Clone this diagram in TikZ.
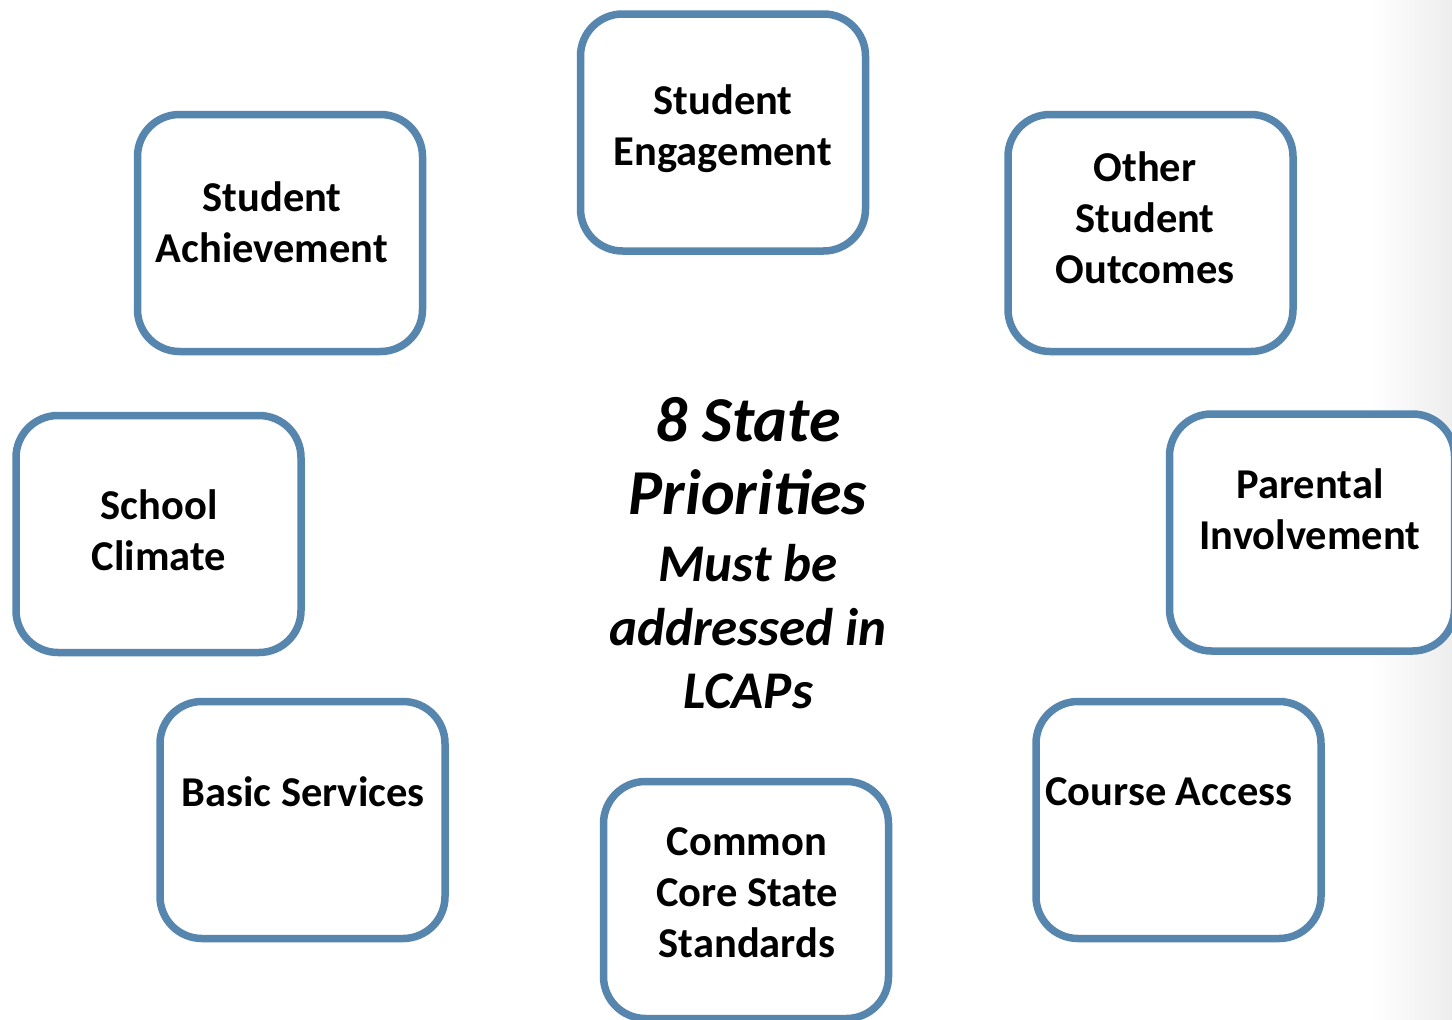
\documentclass[tikz,border=0pt]{standalone}
\usepackage{fontspec}
\setmainfont{Carlito}
\definecolor{boxblue}{HTML}{5685AD}
\tikzset{
  box/.style={draw=boxblue, line width=7.5pt, rounded corners=42pt, fill=white,
    minimum width=285pt, minimum height=237pt, inner sep=0pt},
  lbl/.style={align=center, font=\fontsize{42.5}{51}\selectfont\bfseries, inner sep=0pt},
  big/.style={align=center, inner sep=0pt}
}
\begin{document}
\begin{tikzpicture}[x=1pt,y=-1pt]
\useasboundingbox (0,0) rectangle (1452,1020);
\fill[white] (0,0) rectangle (1452,1020);
\shade[left color=white, right color=black!7] (1370,0) rectangle (1452,1020);
% boxes
\node[box] (se) at (723,132.5) {};
\node[box] (sa) at (280,233) {};
\node[box] (oso) at (1150.5,233) {};
\node[box] (sc) at (158.5,534) {};
\node[box] (pi) at (1312,532.5) {};
\node[box] (bs) at (302.5,820) {};
\node[box] (ca) at (1178.5,820) {};
\node[box] (cc) at (746,900) {};
% labels
\node[lbl] (tse) at (723,129) {Student\\Engagement};
\node[lbl] (tsa) at (272,222) {Student\\Achievement};
\node[lbl] (toso) at (1145,218) {Other\\Student\\Outcomes};
\node[lbl] (tsc) at (159,530) {School\\Climate};
\node[lbl] (tpi) at (1310,509.5) {Parental\\Involvement};
\node[lbl] (tbs) at (303,792) {Basic Services};
\node[lbl] (tca) at (1169,792) {Course Access};
\node[lbl] (tcc) at (747,893) {Common\\Core State\\Standards};
% centre text
\node[big, font=\fontsize{64}{73}\selectfont\bfseries\itshape] (t1) at (748,456) {8 State\\Priorities};
\node[big, font=\fontsize{53}{63.5}\selectfont\bfseries\itshape] (t2) at (748,627) {Must be\\addressed in\\LCAPs};
\end{tikzpicture}
\end{document}
